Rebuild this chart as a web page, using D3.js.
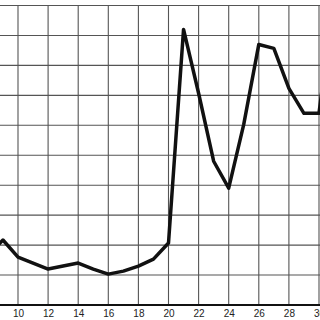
<!DOCTYPE html>
<html><head><meta charset="utf-8">
<script src="https://cdn.jsdelivr.net/npm/d3@7"></script>
<style>html,body{margin:0;padding:0;background:#fff;}svg{display:block;}</style>
</head><body>
<script>
const days = [8,9,10,11,12,13,14,15,16,17,18,19,20,21,22,23,24,25,26,27,28,29,30,31];
const values = [16.7,21.7,16,14,12,13,14,12,10.3,11.3,13,15.3,20.7,92,70.7,48,39,60.3,87,85.7,72.3,64,64,103.3];
const xTicks = [10,12,14,16,18,20,22,24,26,28,30];
const yGrid = [10,20,30,40,50,60,70,80,90,100];

const W = 320, H = 320;
const svg = d3.select("body").append("svg").attr("width", W).attr("height", H);
const x = d3.scaleLinear().domain([10,30]).range([18,319]);
const y = d3.scaleLinear().domain([0,100]).range([305,5.5]);

svg.append("g").selectAll("line").data(xTicks).join("line")
  .attr("x1", d => x(d)).attr("x2", d => x(d)).attr("y1", y(100)).attr("y2", y(0))
  .attr("stroke", "#555").attr("stroke-width", 1.1);
svg.append("g").selectAll("line").data(yGrid).join("line")
  .attr("x1", 0).attr("x2", W).attr("y1", d => y(d)).attr("y2", d => y(d))
  .attr("stroke", "#555").attr("stroke-width", 1.1);

const axis = d3.axisBottom(x).tickValues(xTicks).tickSize(0).tickPadding(5);
const ag = svg.append("g").attr("transform", `translate(0,${y(0)})`).call(axis);
ag.select(".domain").remove();
ag.selectAll("text").attr("font-family", "Liberation Sans, Arial, sans-serif").attr("font-size", 10).attr("fill", "#222");
svg.append("line").attr("x1", 0).attr("x2", W).attr("y1", y(0)).attr("y2", y(0))
  .attr("stroke", "#111").attr("stroke-width", 2);

const line = d3.line().x((d,i) => x(days[i])).y(d => y(d));
svg.append("path").datum(values).attr("d", line)
  .attr("fill", "none").attr("stroke", "#111").attr("stroke-width", 3.5)
  .attr("stroke-linejoin", "round").attr("stroke-linecap", "round");
</script>
</body></html>
